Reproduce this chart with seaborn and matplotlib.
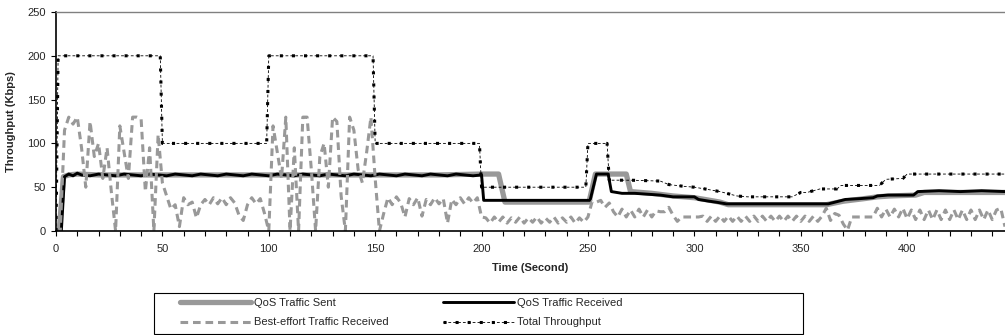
import numpy as np
import pandas as pd
import matplotlib
matplotlib.use("Agg")
import matplotlib.pyplot as plt
from matplotlib.lines import Line2D
from matplotlib.patches import Rectangle
from matplotlib.legend_handler import HandlerTuple
import seaborn as sns

# ---------------- data ----------------
series_labels = ["QoS Traffic Sent", "QoS Traffic Received",
                 "Best-effort Traffic Received", "Total Throughput"]

total_t = [0, 1, 49, 50, 99, 100, 149, 150, 199, 200, 249, 250, 259, 260,
           270, 284, 288, 295, 300, 305, 312, 320, 325, 346, 350, 353, 359,
           367, 369, 387, 390, 398, 400, 446]
total_v = [0, 200, 200, 100, 100, 200, 200, 100, 100, 50, 50, 100, 100, 58,
           58, 57, 53, 51, 50, 48, 45, 40, 39, 39, 44, 44, 48,
           48, 52, 52, 59, 60, 65, 65]

recv_t = [0, 2.5, 4, 6, 8, 10, 12, 16, 20, 24, 28, 32, 36, 40, 44, 48,
          52, 56, 60, 64, 68, 72, 76, 80, 84, 88, 92, 96, 100, 104, 108,
          112, 116, 120, 124, 128, 132, 136, 140, 144, 148, 152, 156, 160,
          164, 168, 172, 176, 180, 184, 188, 192, 196, 200, 201, 251, 254,
          259.5, 261, 266, 272, 278, 284, 290, 300, 302, 307, 310, 315, 363,
          371, 378, 384, 386, 391, 403, 405, 415, 425, 435, 446]
recv_v = [0, 0, 62, 65, 63, 66, 64, 63, 65, 64, 63, 65, 64, 63, 65, 64,
          63, 65, 64, 63, 65, 64, 63, 65, 64, 63, 65, 64, 63, 65, 64,
          63, 65, 64, 63, 65, 64, 63, 65, 64, 63, 65, 64, 63,
          65, 64, 63, 65, 64, 63, 65, 64, 63, 64, 35, 35, 65,
          65, 45, 43, 43, 42, 41, 39, 39, 36, 34, 33, 31, 31,
          36, 37, 38, 40, 41, 41, 45, 46, 45, 46, 45]

sent_t = [0, 1.5, 3.5, 6, 10, 20, 40, 60, 80, 100, 120, 140, 160, 180,
          200, 208, 211, 250.5, 253.5, 268, 270, 280, 290, 300, 305, 312,
          316, 362, 370, 380, 386, 392, 404, 408, 446]
sent_v = [0, 0, 62, 64, 65, 64, 64, 64, 64, 64, 64, 64, 64, 64,
          65, 65, 33, 33, 65, 65, 45, 43, 40, 38, 36, 33,
          30, 30, 34, 37, 39, 40, 41, 44, 44]

be_t = list(range(0, 447, 2))
be_v = [0, 0, 115, 130, 122, 130, 95, 50, 125, 85, 100, 60, 95, 45, 0, 120, 90, 60, 130, 130, 128, 45, 95, 0, 110,
        55, 40, 25, 30, 5, 38, 30, 33, 15, 30, 36, 30, 38, 31, 38, 30, 38, 32, 18, 12, 30, 38, 31, 37, 20,
        0, 120, 90, 60, 130, 0, 95, 0, 130, 130, 70, 0, 85, 100, 50, 130, 125, 40, 0, 130, 115, 70, 55, 90, 130,
        60, 0, 20, 38, 30, 39, 32, 16, 37, 30, 38, 17, 36, 30, 38, 31, 37, 9, 36, 30, 38, 31, 38, 32, 38,
        16, 15, 9, 16, 10, 16, 9, 15, 10, 16, 9, 15, 10, 16, 9, 15, 10, 16, 9, 15, 10, 16, 9, 15, 10,
        16, 34, 33, 35, 27, 32, 22, 16, 25, 16, 24, 16, 25, 16, 24, 16, 23, 22, 22, 27, 18, 11, 16, 16, 16,
        16, 16, 17, 11, 17, 11, 17, 11, 17, 11, 17, 11, 17, 11, 17, 11, 17, 11, 17, 11, 17, 11, 17, 11, 17,
        11, 17, 11, 17, 11, 17, 26, 12, 20, 18, 8, 1, 16, 16, 16, 16, 16, 16, 26, 16, 25, 16, 25, 16, 26,
        14, 24, 13, 24, 13, 24, 13, 24, 13, 24, 13, 24, 13, 24, 13, 24, 13, 24, 13, 24, 13, 24, 26, 5]

x_ticks = [0, 50, 100, 150, 200, 250, 300, 350, 400]
y_ticks = [0, 50, 100, 150, 200, 250]

# ---------------- style ----------------
sns.set_theme(style="white")
plt.rcParams["font.family"] = ["Liberation Sans", "DejaVu Sans"]
plt.rcParams["lines.scale_dashes"] = False

GRAY = "#999999"

fig = plt.figure(figsize=(10.05, 3.35), dpi=100)
ax = fig.add_axes([56 / 1005, 1 - 231 / 335, 949 / 1005, 219 / 335])

sns.lineplot(x=sent_t, y=sent_v, ax=ax, sort=False, estimator=None,
             color=GRAY, linewidth=3.8, legend=False, solid_joinstyle="round")
sns.lineplot(x=recv_t, y=recv_v, ax=ax, sort=False, estimator=None,
             color="black", linewidth=2.1, legend=False)
sns.lineplot(x=be_t, y=be_v, ax=ax, sort=False, estimator=None,
             color=GRAY, linewidth=2.2, linestyle=(0, (5.5, 3.5)), legend=False)
sns.lineplot(x=total_t, y=total_v, ax=ax, sort=False, estimator=None,
             color="black", linewidth=0.6, linestyle=(0, (2, 1.5)), legend=False)
sns.lineplot(x=total_t, y=total_v, ax=ax, sort=False, estimator=None,
             color="black", linewidth=2.2, linestyle=(0, (2.2, 6.5)), legend=False)

ax.set_xlim(0, 446)
ax.set_ylim(0, 250)
ax.set_xticks(x_ticks)
ax.set_xticks(range(0, 447, 10), minor=True)
ax.set_yticks(y_ticks)
ax.tick_params(axis="both", which="both", direction="out", length=3.5,
               width=0.8, color="black", labelsize=8, bottom=True, left=True)
ax.tick_params(axis="x", which="major", pad=6)
ax.tick_params(axis="y", which="major", pad=4)
ax.tick_params(axis="y", which="minor", left=False)

for s in ["left", "bottom"]:
    ax.spines[s].set_color("black")
    ax.spines[s].set_linewidth(1.2)
ax.spines["top"].set_color("#808080")
ax.spines["top"].set_linewidth(1.0)
ax.spines["right"].set_visible(False)

ax.set_xlabel("Time (Second)", fontsize=8, fontweight="bold", labelpad=6)
ax.set_ylabel("Throughput (Kbps)", fontsize=8, fontweight="bold", labelpad=8)

# ---------------- legend ----------------
h_sent = Line2D([], [], color=GRAY, linewidth=3.8)
h_recv = Line2D([], [], color="black", linewidth=2.1)
h_be = Line2D([], [], color=GRAY, linewidth=2.2, linestyle=(0, (5.5, 3.5)))
h_tot1 = Line2D([], [], color="black", linewidth=0.6, linestyle=(0, (2, 1.5)))
h_tot2 = Line2D([], [], color="black", linewidth=2.2, linestyle=(0, (2.2, 6.5)))

fig.legend([h_sent, h_be, h_recv, (h_tot1, h_tot2)],
           [series_labels[0], series_labels[2], series_labels[1], series_labels[3]],
           ncol=2, loc="upper left", bbox_to_anchor=(180 / 1005, 1 - 298 / 335),
           frameon=False, fontsize=8, handlelength=6.4, handletextpad=0.25,
           columnspacing=4.9, labelspacing=0.85, borderpad=0, borderaxespad=0,
           handler_map={tuple: HandlerTuple(ndivide=1, pad=0)})
fig.add_artist(Rectangle((154 / 1005, 1 - 334 / 335), 649 / 1005, 41 / 335,
                         transform=fig.transFigure, fill=False,
                         edgecolor="black", linewidth=0.8))

fig.savefig("out.png", dpi=100)
